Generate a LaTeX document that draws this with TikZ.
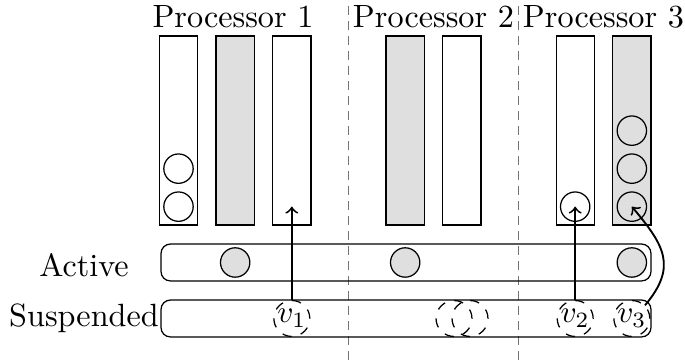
\documentclass[tikz,border=0pt]{standalone}
\usepackage{amsmath}
\usepackage{tikz}
\usetikzlibrary{positioning}

\begin{document}
\begin{tikzpicture}
	[
		x=0.32pt, y=0.32pt,
		font=\fontsize{10.3pt}{12pt}\selectfont,
		queue/.style={draw, rectangle, inner sep=0pt, minimum width=12.2pt, minimum height=60.5pt},
		job/.style={draw, circle, inner sep=0pt, minimum size=9.4pt},
		pool/.style={draw, rounded corners=3pt, inner sep=0pt, minimum width=156.8pt, minimum height=11.8pt},
		wait/.style={draw, dashed, circle, inner sep=0pt, minimum size=11.5pt},
		sep/.style={dash pattern=on 2.8pt off 2pt, line width=0.5pt, black!55},
		arr/.style={->, semithick}
	]
	\useasboundingbox (0,0) rectangle (685,360);

	% processor queues
	\foreach \i/\k/\f in {1/0/white, 2/1/gray!25, 3/2/white, 4/4/gray!25, 5/5/white, 6/7/white, 7/8/gray!25}
		\node[queue, fill=\f] (bar\i) at ({178.5+56.67*\k},229.5) {};

	\node[anchor=base] (p1) at (233,332) {Processor 1};
	\node[anchor=base] (p2) at (433.5,332) {Processor 2};
	\node[anchor=base] (p3) at (603.5,332) {Processor 3};

	\foreach \x in {348.5,518.5}
		\draw[sep] (\x,0) -- (\x,360);

	% jobs waiting in queues
	\foreach \b/\n in {1/2,6/1,7/3}
		\foreach \j in {1,...,\n}
			\path (bar\b.south) ++(0,{38*\j-19}) node[job] (c\b-\j) {};

	% pools
	\node[pool] (act) at (406,97.5) {};
	\node[pool] (sus) at (406,41.5) {};
	\node[anchor=base] (lact) at (84,83) {Active};
	\node[anchor=base] (lsus) at (84,33) {Suspended};

	\foreach \i in {2,4,7}
		\node[job, fill=gray!25] (a\i) at (bar\i |- act) {};

	\node[wait] (v1) at (bar3 |- sus) {$v_1$};
	\node[wait] (w1) at (454,41.5) {};
	\node[wait] (w2) at (470,41.5) {};
	\node[wait] (v2) at (bar6 |- sus) {$v_2$};
	\node[wait] (v3) at (bar7 |- sus) {$v_3$};

	\draw[arr] (v1) -- (v1 |- c1-1);
	\draw[arr] (v2) -- (c6-1.center);
	\draw[arr] (v3.north east) to[out=50, in=-50, looseness=1.3] (c7-1.center);
\end{tikzpicture}
\end{document}
